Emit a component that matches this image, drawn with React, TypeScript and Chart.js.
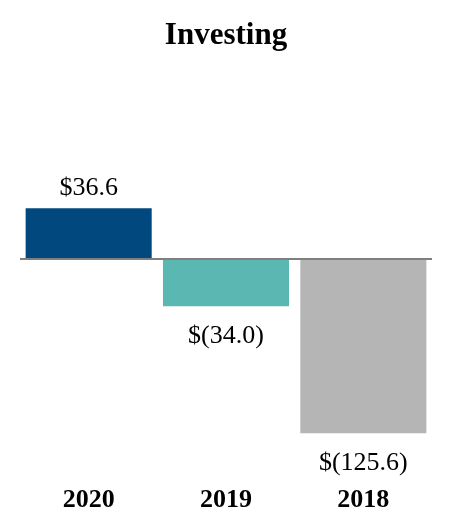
import React, { useEffect, useRef } from "react";
import { Chart, registerables } from "chart.js";

Chart.register(...registerables);

const categories = ["2020", "2019", "2018"];
const values = [36.6, -34.0, -125.6];
const barColors = ["#00487E", "#5BB7B2", "#B5B5B5"];
const titleText = "Investing";

const FONT = "'Liberation Serif', 'Times New Roman', serif";

function formatValue(v: number): string {
  const s = Math.abs(v).toFixed(1);
  return v < 0 ? `$(${s})` : `$${s}`;
}

const zeroLinePlugin = {
  id: "zeroLine",
  afterDatasetsDraw(chart: any) {
    const { ctx, chartArea, scales } = chart;
    const y = scales.y.getPixelForValue(0);
    ctx.save();
    ctx.strokeStyle = "#7F7F7F";
    ctx.lineWidth = 2;
    ctx.beginPath();
    ctx.moveTo(chartArea.left, y);
    ctx.lineTo(chartArea.right, y);
    ctx.stroke();
    ctx.restore();
  },
};

const valueLabelPlugin = {
  id: "valueLabels",
  afterDatasetsDraw(chart: any) {
    const { ctx } = chart;
    const meta = chart.getDatasetMeta(0);
    const data = chart.data.datasets[0].data as number[];
    ctx.save();
    ctx.font = `26px ${FONT}`;
    ctx.fillStyle = "#000000";
    ctx.textAlign = "center";
    ctx.textBaseline = "middle";
    meta.data.forEach((bar: any, i: number) => {
      const v = data[i];
      const y = v >= 0 ? bar.y - 20 : bar.y + 30;
      ctx.fillText(formatValue(v), bar.x, y);
    });
    ctx.restore();
  },
};

export default function App() {
  const canvasRef = useRef<HTMLCanvasElement | null>(null);

  useEffect(() => {
    if (!canvasRef.current) return;
    const chart = new Chart(canvasRef.current, {
      type: "bar",
      data: {
        labels: categories,
        datasets: [
          {
            data: values,
            backgroundColor: barColors,
            borderWidth: 0,
            barPercentage: 0.918,
            categoryPercentage: 1,
          },
        ],
      },
      options: {
        animation: false,
        responsive: false,
        maintainAspectRatio: false,
        layout: { padding: { left: 20, right: 20, top: 0, bottom: 0 } },
        plugins: {
          legend: { display: false },
          tooltip: { enabled: false },
          title: {
            display: true,
            text: titleText,
            color: "#000000",
            font: { family: FONT, size: 31, weight: "bold" },
            padding: { top: 17, bottom: 94 },
          },
        },
        scales: {
          x: {
            grid: { display: false, drawTicks: false },
            border: { display: false },
            ticks: {
              color: "#000000",
              padding: 18,
              font: { family: FONT, size: 26, weight: "bold" },
            },
            afterFit(axis: any) {
              axis.height = 65;
            },
          },
          y: {
            display: false,
            min: -150,
            max: 80,
          },
        },
      },
      plugins: [zeroLinePlugin, valueLabelPlugin],
    });
    return () => chart.destroy();
  }, []);

  return (
    <div style={{ position: "absolute", left: 0, top: 0, width: 452, height: 532, background: "#ffffff" }}>
      <canvas ref={canvasRef} width={452} height={532} style={{ width: 452, height: 532 }} />
    </div>
  );
}
